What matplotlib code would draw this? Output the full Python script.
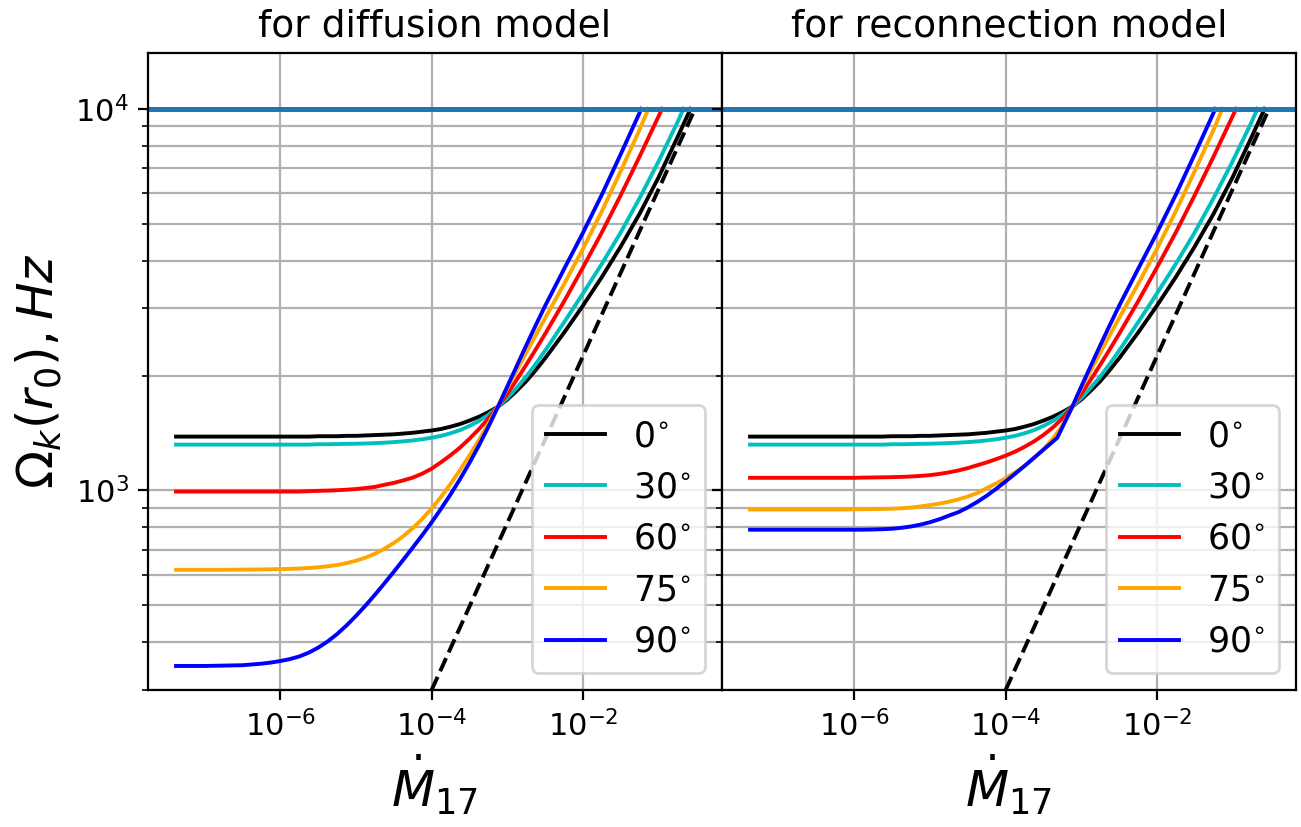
import numpy as np
import matplotlib.pyplot as plt
from matplotlib.ticker import NullLocator

# inclination angles and line colours
angles = ['0', '30', '60', '75', '90']
colors = ['k', 'c', 'r', 'orange', 'b']

# sampling points: log10 of Mdot_17
lg_mdot = [-7.38, -7.0, -6.75, -6.5, -6.375, -6.25, -6.125, -6.0, -5.875, -5.75,
           -5.625, -5.5, -5.375, -5.25, -5.125, -5.0, -4.875, -4.75, -4.625, -4.5,
           -4.375, -4.25, -4.125, -4.0, -3.875, -3.75, -3.625, -3.5, -3.375, -3.25,
           -3.125, -3.0, -2.875, -2.75, -2.625, -2.5, -2.25, -2.0, -1.75, -1.5,
           -1.25, -1.0, -0.75]
# log10 Mdot where each curve reaches the 1e4 Hz cap
lg_cutoff = [-0.576, -0.671, -0.953, -1.135, -1.23]
omega_max = 1e4

# log10 Omega_k(r0) [Hz], diffusion model
lg_om_diff_0 = [3.141, 3.141, 3.141, 3.141, 3.141, 3.141, 3.141, 3.141, 3.141, 3.141,
                3.141, 3.142, 3.142, 3.142, 3.143, 3.143, 3.144, 3.145, 3.146, 3.147,
                3.149, 3.151, 3.154, 3.157, 3.161, 3.167, 3.174, 3.183, 3.193, 3.205,
                3.219, 3.238, 3.261, 3.286, 3.315, 3.346, 3.413, 3.484, 3.559, 3.639,
                3.725, 3.820, 3.925]
lg_om_diff_30 = [3.120, 3.120, 3.120, 3.120, 3.120, 3.120, 3.120, 3.120, 3.120, 3.120,
                 3.120, 3.121, 3.121, 3.1215, 3.122, 3.1224, 3.123, 3.124, 3.125, 3.1266,
                 3.1285, 3.131, 3.134, 3.138, 3.143, 3.1497, 3.158, 3.169, 3.182, 3.198,
                 3.218, 3.242, 3.269, 3.298, 3.331, 3.366, 3.440, 3.516, 3.5935, 3.676,
                 3.766, 3.862, 3.9645]
lg_om_diff_60 = [2.997, 2.997, 2.997, 2.997, 2.997, 2.997, 2.997, 2.997, 2.997, 2.997,
                 2.998, 2.9988, 2.9995, 3.0005, 3.0018, 3.0037, 3.0062, 3.0092, 3.0147, 3.0197,
                 3.0262, 3.0335, 3.0439, 3.057, 3.074, 3.0922, 3.1122, 3.1352, 3.1606, 3.1882,
                 3.2194, 3.253, 3.290, 3.329, 3.369, 3.410, 3.495, 3.584, 3.676, 3.7735,
                 3.875, 3.980]
lg_om_diff_75 = [2.792, 2.792, 2.792, 2.7925, 2.7927, 2.7929, 2.7933, 2.7938, 2.7945, 2.7954,
                 2.7967, 2.7986, 2.8011, 2.8046, 2.8095, 2.8158, 2.8238, 2.8341, 2.8471, 2.8623,
                 2.8801, 2.9010, 2.9251, 2.9526, 2.9833, 3.0170, 3.0534, 3.0919, 3.1318, 3.1746,
                 3.2201, 3.2676, 3.3145, 3.3608, 3.4064, 3.4514, 3.5402, 3.6327, 3.7315, 3.8365,
                 3.9453]
lg_om_diff_90 = [2.540, 2.540, 2.541, 2.542, 2.544, 2.546, 2.549, 2.553, 2.558, 2.5649,
                 2.5749, 2.588, 2.6043, 2.6237, 2.6462, 2.6712, 2.6981, 2.7266, 2.7564, 2.787,
                 2.8183, 2.8502, 2.8827, 2.9165, 2.9521, 2.9896, 3.0296, 3.0721, 3.1177, 3.1665,
                 3.2184, 3.2722, 3.3259, 3.3797, 3.4322, 3.4835, 3.5798, 3.6748, 3.7748, 3.881,
                 3.9898]

# log10 Omega_k(r0) [Hz], reconnection model (0 and 30 deg same as diffusion)
lg_om_rec_0 = lg_om_diff_0
lg_om_rec_30 = lg_om_diff_30
lg_om_rec_60 = [3.033, 3.033, 3.033, 3.033, 3.033, 3.033, 3.033, 3.033, 3.0336, 3.0339,
                3.0343, 3.0348, 3.0355, 3.0365, 3.038, 3.0401, 3.0432, 3.0473, 3.0523, 3.0585,
                3.066, 3.0735, 3.082, 3.091, 3.1016, 3.1142, 3.1285, 3.1453, 3.1651, 3.1883,
                3.218, 3.253, 3.290, 3.329, 3.369, 3.410, 3.495, 3.584, 3.676, 3.7735,
                3.875, 3.980]
lg_om_rec_75 = [2.950, 2.950, 2.950, 2.950, 2.950, 2.950, 2.950, 2.9505, 2.9508, 2.9511,
                2.9515, 2.9521, 2.9533, 2.9551, 2.958, 2.9616, 2.9655, 2.9704, 2.9765, 2.984,
                2.9932, 3.006, 3.0185, 3.032, 3.0471, 3.0642, 3.0843, 3.108, 3.1359, 3.170,
                3.216, 3.2676, 3.3145, 3.3608, 3.4064, 3.4514, 3.5402, 3.6327, 3.7315, 3.8365,
                3.9453]
# the 90 deg reconnection curve has a break at lg Mdot = -3.317
lg_mdot_rec_90 = lg_mdot[:29] + [-3.317] + lg_mdot[29:]
lg_om_rec_90 = [2.897, 2.897, 2.897, 2.897, 2.897, 2.897, 2.897, 2.897, 2.8972, 2.8976,
                2.8984, 2.8996, 2.9021, 2.9056, 2.9104, 2.9167, 2.9245, 2.934, 2.943, 2.9555,
                2.9699, 2.9861, 3.0042, 3.0236, 3.0436, 3.0642, 3.0855, 3.1067, 3.128, 3.138,
                3.1655, 3.2167, 3.2722, 3.3259, 3.3797, 3.4322, 3.4835, 3.5798, 3.6748, 3.7748,
                3.881, 3.9898]

# dashed reference line
mdot_dash = [1e-4, 0.304]
om_dash = [300, 1e4]


def draw(ax, lgs, curves, title):
    for lg, om, cut, c, a in zip(lgs, curves, lg_cutoff, colors, angles):
        x = 10.0 ** np.append(lg[:len(om)], cut)
        y = np.append(10.0 ** np.array(om), omega_max)
        ax.plot(x, y, color=c, lw=1.4, label=r'$%s^{\circ}$' % a)
    ax.plot(mdot_dash, om_dash, 'k--', lw=1.4)
    ax.axhline(omega_max, color='C0', lw=1.8)
    ax.set_xscale('log')
    ax.set_yscale('log')
    ax.set_xlim(10**-7.75, 10**-0.16)
    ax.set_ylim(300, 1.4e4)
    ax.set_xticks([1e-6, 1e-4, 1e-2])
    ax.xaxis.set_minor_locator(NullLocator())
    ax.grid(True, which='major')
    ax.grid(True, which='minor', axis='y')
    ax.tick_params(labelsize=11)
    ax.set_title(title, fontsize=13.5)
    ax.set_xlabel(r'$\dot{M}_{17}$', fontsize=18)
    ax.legend(loc='lower right', fontsize=12.5, handlelength=1.7)


fig = plt.figure(figsize=(6.505, 4.135), dpi=200)
ax1, ax2 = fig.subplots(1, 2, sharey=True)
fig.subplots_adjust(left=0.1138, right=0.9962, bottom=0.1657, top=0.9359, wspace=0)

draw(ax1, [lg_mdot] * 5,
     [lg_om_diff_0, lg_om_diff_30, lg_om_diff_60, lg_om_diff_75, lg_om_diff_90],
     'for diffusion model')
draw(ax2, [lg_mdot] * 4 + [lg_mdot_rec_90],
     [lg_om_rec_0, lg_om_rec_30, lg_om_rec_60, lg_om_rec_75, lg_om_rec_90],
     'for reconnection model')

ax1.set_ylabel(r'$\Omega_k(r_0), Hz$', fontsize=18)

fig.savefig('out.png', dpi=200)
